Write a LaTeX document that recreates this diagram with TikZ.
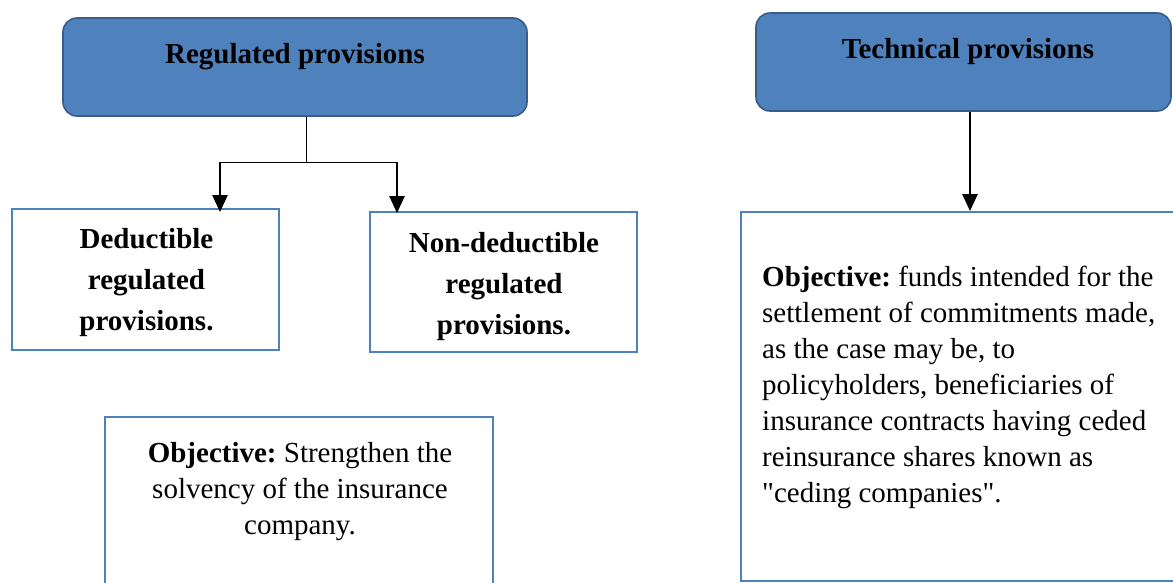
\documentclass[tikz,border=0pt]{standalone}
\usepackage{fontspec}
\setmainfont{Liberation Serif}
\newfontfamily\qfont{Liberation Serif}
\usetikzlibrary{arrows.meta}
\definecolor{hdrfill}{HTML}{4F81BD}
\definecolor{hdrline}{HTML}{385D8A}
\definecolor{boxline}{HTML}{4F81BD}
\tikzset{
  hdr/.style={draw=hdrline, fill=hdrfill, line width=1.6pt, rounded corners=14pt, inner sep=0pt},
  plainbox/.style={draw=boxline, line width=1.8pt, fill=white, inner sep=0pt},
  txt/.style={inner sep=0pt, font=\fontsize{29}{36}\selectfont},
  arr/.style={line width=2.4pt, -{Triangle[width=15pt,length=17pt]}},
  stem/.style={line width=0.9pt}
}
\frenchspacing
\begin{document}
\begin{tikzpicture}[x=1pt,y=-1pt]
\useasboundingbox (0,0) rectangle (1173,582);
% header boxes
\node[hdr, minimum width=464pt, minimum height=98pt] (reg) at (295,67) {};
\node[hdr, minimum width=415pt, minimum height=98pt] (tech) at (963.5,62) {};
\node[txt, anchor=base] (regt) at (295,63) {\textbf{Regulated provisions}};
\node[txt, anchor=base] (techt) at (968,58) {\textbf{Technical provisions}};
% sub boxes
\node[plainbox, minimum width=267pt, minimum height=141pt] (ded) at (145.5,279.5) {};
\node[plainbox, minimum width=267pt, minimum height=140pt] (nded) at (503.5,282) {};
\node[plainbox, minimum width=388pt, minimum height=170pt] (lobj) at (299,502) {};
\node[plainbox, minimum width=436pt, minimum height=369pt] (robj) at (959,396.5) {};
% texts
\node[txt, anchor=north, align=center, font=\fontsize{29}{41}\selectfont\bfseries] (dedt) at (146.5,228) {Deductible\\regulated\\provisions.};
\node[txt, anchor=north, align=center, font=\fontsize{29}{41}\selectfont\bfseries] (ndedt) at (504,232) {Non-deductible\\regulated\\provisions.};
\node[txt, anchor=north, align=center] (lobjt) at (300,442) {\textbf{Objective:} Strengthen the\\solvency of the insurance\\company.};
\node[txt, anchor=north west, align=left] (robjt) at (762,266) {\textbf{Objective:} funds intended for the\\settlement of commitments made,\\as the case may be, to\\policyholders, beneficiaries of\\insurance contracts having ceded\\reinsurance shares known as\\{\qfont"}ceding companies{\qfont"}.};
% connectors
\coordinate (j) at (306,162);
\coordinate (jl) at (220,162);
\coordinate (jr) at (397,162);
\draw[stem] (reg.south -| j) -- (j);
\draw[stem] (jl) -- (jr);
\draw[arr] (jl) -- ([yshift=-4pt]ded.north -| jl);
\draw[arr] (jr) -- ([yshift=-2pt]nded.north -| jr);
\draw[arr] (tech.south -| 970,0) -- (robj.north -| 970,0);
\end{tikzpicture}
\end{document}
